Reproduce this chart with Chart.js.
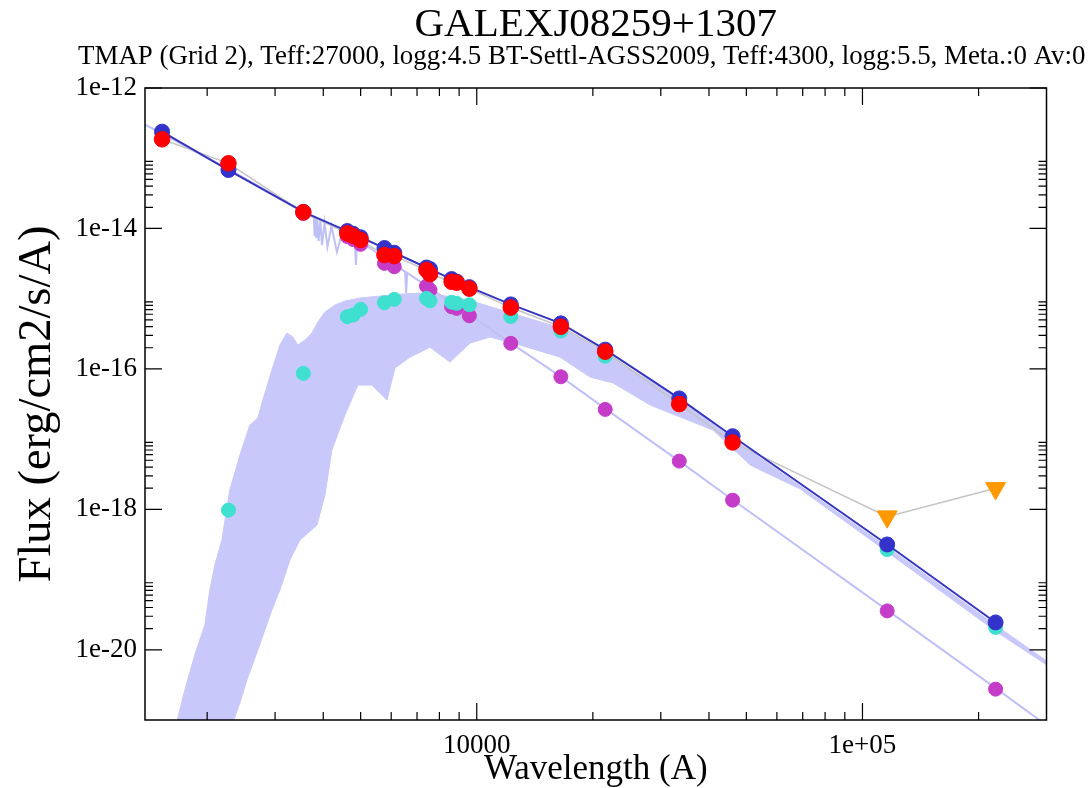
<!DOCTYPE html>
<html lang="en">
<head>
<meta charset="UTF-8">
<title>GALEXJ08259+1307 SED</title>
<script src="https://cdn.jsdelivr.net/npm/chart.js@4.4.7/dist/chart.umd.min.js"></script>
<style>
  html, body { margin: 0; padding: 0; background: #fff; }
  .wrap { position: relative; width: 1089px; height: 788px; }
</style>
</head>
<body>
<div class="wrap"><canvas id="sed"></canvas></div>
<script>
// photometric bands, effective wavelength (A)
const filterWave = [1528, 2271, 3551, 4616, 4783, 4999, 5764, 6111, 7409, 7565, 8608, 8872, 9568, 12252, 16520, 21528, 33497, 46058, 115900, 221400];

// observed fluxes (detections, first 18 bands) and upper limits (last two)
const obsFlux = [1.86e-13, 8.46e-14, 1.70e-14, 8.51e-15, 7.87e-15, 6.84e-15, 4.18e-15, 4.04e-15, 2.56e-15, 2.24e-15, 1.74e-15, 1.69e-15, 1.39e-15, 7.47e-16, 3.98e-16, 1.76e-16, 3.15e-17, 8.97e-18];
const upperWave = [115900, 221400];
const upperFlux = [7.87e-19, 1.99e-18];

// synthetic photometry: combined model, M dwarf (BT-Settl), white dwarf (TMAP)
const modelFlux = [2.39e-13, 6.79e-14, 1.72e-14, 9.18e-15, 8.38e-15, 7.49e-15, 5.26e-15, 4.51e-15, 2.78e-15, 2.64e-15, 1.90e-15, 1.75e-15, 1.46e-15, 8.29e-16, 4.45e-16, 1.88e-16, 3.80e-17, 1.10e-17, 3.16e-19, 2.45e-20];
const mdFlux = [null, 9.74e-19, 8.63e-17, 5.53e-16, 5.84e-16, 7.04e-16, 8.74e-16, 9.77e-16, 1.01e-15, 9.33e-16, 8.89e-16, 8.57e-16, 8.19e-16, 5.56e-16, 3.46e-16, 1.51e-16, 3.37e-17, 9.84e-18, 2.67e-19, 2.08e-20];
const wdFlux = [2.21e-13, 7.13e-14, 1.63e-14, 7.67e-15, 6.95e-15, 5.94e-15, 3.18e-15, 2.85e-15, 1.51e-15, 1.33e-15, 7.67e-16, 7.27e-16, 5.71e-16, 2.31e-16, 7.72e-17, 2.65e-17, 4.86e-18, 1.35e-18, 3.58e-20, 2.75e-21];

// TMAP white dwarf spectrum (continuum with Balmer lines)
const wdSpecWave = [1380, 2271, 3551, 3780, 3798, 3815, 3835, 3860, 3889, 3930, 3970, 4030, 4102, 4200, 4340, 4480, 4830, 4861, 4890, 5100, 6520, 6563, 6600, 9000, 12252, 16520, 21528, 33497, 46058, 115900, 221400, 300000];
const wdSpecFlux = [3.02e-13, 7.02e-14, 1.74e-14, 1.43e-14, 7.79e-15, 1.38e-14, 7.30e-15, 1.36e-14, 6.61e-15, 1.30e-14, 5.80e-15, 1.21e-14, 5.43e-15, 1.08e-14, 4.61e-15, 8.89e-15, 6.95e-15, 3.01e-15, 6.61e-15, 6.00e-15, 2.43e-15, 1.20e-15, 2.33e-15, 7.47e-16, 2.33e-16, 7.77e-17, 2.72e-17, 4.86e-18, 1.37e-18, 3.67e-20, 2.84e-21, 8.43e-22];

// BT-Settl M dwarf spectrum, upper and lower envelope of the dense line forest
const mdUpWave = [1660, 1750, 1857, 1972, 2032, 2093, 2183, 2289, 2431, 2580, 2706, 2788, 2942, 3087, 3219, 3336, 3437, 3584, 3737, 3874, 4040, 4287, 4551, 4978, 5610, 6322, 7124, 8029, 9050, 9899, 12274, 16551, 21528, 33700, 45980, 116100, 221400, 301000];
const mdUpFlux = [8.4e-22, 2.66e-21, 8.4e-21, 2.24e-20, 7.1e-20, 1.6e-19, 3.64e-19, 1.88e-18, 5.9e-18, 1.58e-17, 1.99e-17, 3.59e-17, 9.6e-17, 2.18e-16, 3.24e-16, 2.84e-16, 2.18e-16, 2.57e-16, 3.24e-16, 4.64e-16, 6.44e-16, 8.1e-16, 9.24e-16, 1.02e-15, 1.09e-15, 1.16e-15, 1.20e-15, 1.12e-15, 1.02e-15, 8.95e-16, 6.24e-16, 3.81e-16, 1.68e-16, 3.59e-17, 1.03e-17, 2.89e-19, 2.24e-20, 6.88e-21];
const mdLoWave = [1660, 2317, 2431, 2534, 2706, 2942, 3087, 3277, 3478, 3851, 4040, 4211, 4551, 4919, 5350, 5851, 6137, 6713, 7565, 8524, 9608, 10827, 12954, 16452, 19685, 22580, 28170, 41050, 51220, 69040, 116100, 221400, 301000];
const mdLoFlux = [8.4e-22, 8.4e-22, 1.74e-21, 3.69e-21, 9.87e-21, 3.67e-20, 7.1e-20, 1.89e-19, 3.64e-19, 5.96e-19, 1.59e-18, 6.97e-18, 2.2e-17, 5.88e-17, 5.88e-17, 3.59e-17, 1.03e-16, 1.47e-16, 2.04e-16, 1.25e-16, 2.33e-16, 2.84e-16, 2.18e-16, 1.47e-16, 7.64e-17, 6.28e-17, 3.05e-17, 1.34e-17, 4.26e-18, 1.94e-18, 2.46e-19, 1.84e-20, 6.03e-21];

// axis ticks
const xMajorTicks = [10000, 100000];
const xTickLabels = ['10000', '1e+05'];
const xMinorTicks = [2000, 3000, 4000, 5000, 6000, 7000, 8000, 9000, 20000, 30000, 40000, 50000, 60000, 70000, 80000, 90000, 200000];
const yMajorTicks = [1e-20, 1e-18, 1e-16, 1e-14, 1e-12];
const yTickLabels = ['1e-20', '1e-18', '1e-16', '1e-14', '1e-12'];
const yMinorTicks = [
  2e-20, 3e-20, 4e-20, 5e-20, 6e-20, 7e-20, 8e-20, 9e-20,
  2e-18, 3e-18, 4e-18, 5e-18, 6e-18, 7e-18, 8e-18, 9e-18,
  2e-16, 3e-16, 4e-16, 5e-16, 6e-16, 7e-16, 8e-16, 9e-16,
  2e-14, 3e-14, 4e-14, 5e-14, 6e-14, 7e-14, 8e-14, 9e-14
];

const chartTitle = 'GALEXJ08259+1307';
const chartSubtitle = 'TMAP (Grid 2), Teff:27000, logg:4.5 BT-Settl-AGSS2009, Teff:4300, logg:5.5, Meta.:0 Av:0';

const serif = '"Liberation Serif", "Times New Roman", serif';
const lavender = '#c8c8fa';

function pts(xs, ys) {
  return xs.map((x, i) => ({ x: x, y: ys[i] })).filter(p => p.y != null);
}

// title + subtitle, centred over the plot like xmgrace does
const titlePlugin = {
  id: 'sedTitle',
  afterDraw(chart) {
    const { ctx, chartArea } = chart;
    const cx = (chartArea.left + chartArea.right) / 2;
    ctx.save();
    ctx.fillStyle = '#000';
    ctx.textAlign = 'center';
    ctx.textBaseline = 'alphabetic';
    ctx.font = '41px ' + serif;
    ctx.fillText(chartTitle, cx, 36);
    ctx.font = '26.9px ' + serif;
    ctx.fillText(chartSubtitle, cx - 14, 64);
    ctx.restore();
  }
};

// box frame with inward ticks on all four sides
const framePlugin = {
  id: 'graceFrame',
  afterDatasetsDraw(chart) {
    const { ctx, chartArea: a, scales: { x, y } } = chart;
    ctx.save();
    ctx.strokeStyle = '#000';
    ctx.lineWidth = 1.2;
    ctx.beginPath();
    const vt = (v, len) => {
      const px = x.getPixelForValue(v);
      ctx.moveTo(px, a.bottom); ctx.lineTo(px, a.bottom - len);
      ctx.moveTo(px, a.top); ctx.lineTo(px, a.top + len);
    };
    const ht = (v, len) => {
      const py = y.getPixelForValue(v);
      ctx.moveTo(a.left, py); ctx.lineTo(a.left + len, py);
      ctx.moveTo(a.right, py); ctx.lineTo(a.right - len, py);
    };
    xMajorTicks.forEach(v => vt(v, 17));
    xMinorTicks.forEach(v => vt(v, 8));
    yMajorTicks.forEach(v => ht(v, 17));
    yMinorTicks.forEach(v => ht(v, 8));
    ctx.stroke();
    ctx.lineWidth = 1.5;
    ctx.strokeRect(a.left, a.top, a.right - a.left, a.bottom - a.top);
    ctx.restore();
  }
};

const dotStyle = (color, r) => ({
  showLine: false,
  pointStyle: 'circle',
  pointRadius: r,
  pointBackgroundColor: color,
  pointBorderColor: color,
  pointBorderWidth: 1,
  borderColor: color,
  backgroundColor: color
});

new Chart(document.getElementById('sed'), {
  type: 'line',
  data: {
    datasets: [
      { // M dwarf spectrum, upper edge, filled down to the lower edge
        data: pts(mdUpWave, mdUpFlux),
        borderColor: lavender, backgroundColor: lavender, borderWidth: 1,
        pointRadius: 0, fill: '+1', order: 10, clip: 0
      },
      { // M dwarf spectrum, lower edge
        data: pts(mdLoWave, mdLoFlux),
        borderColor: lavender, borderWidth: 1,
        pointRadius: 0, fill: false, order: 10, clip: 0
      },
      { // white dwarf spectrum
        data: pts(wdSpecWave, wdSpecFlux),
        borderColor: '#c0c0f8', borderWidth: 2,
        pointRadius: 0, fill: false, order: 9, clip: 0
      },
      { // observed SED, grey connecting line
        data: pts(filterWave.slice(0, obsFlux.length).concat(upperWave), obsFlux.concat(upperFlux)),
        borderColor: '#c4c4c4', borderWidth: 1.5,
        pointRadius: 0, fill: false, order: 8, clip: 0
      },
      Object.assign(dotStyle('#c43cc8', 7), { data: pts(filterWave, wdFlux), order: 6 }),
      Object.assign(dotStyle('#40e0d0', 7), { data: pts(filterWave, mdFlux), order: 5 }),
      Object.assign(dotStyle('#3333cc', 7.5), {
        data: pts(filterWave, modelFlux), order: 4,
        showLine: true, borderColor: '#3535c0', borderWidth: 2, fill: false
      }),
      Object.assign(dotStyle('#ff0000', 7.8), { data: pts(filterWave, obsFlux), order: 3 }),
      Object.assign(dotStyle('#ff9900', 11.5), { data: pts(upperWave, upperFlux), pointStyle: 'triangle', rotation: 180, order: 2 })
    ]
  },
  options: {
    responsive: true,
    maintainAspectRatio: false,
    animation: false,
    devicePixelRatio: 1,
    layout: { padding: { top: 88, right: 42.5, bottom: 0, left: 0 } },
    elements: { line: { tension: 0 } },
    plugins: {
      legend: { display: false },
      tooltip: { enabled: false }
    },
    scales: {
      x: {
        type: 'logarithmic',
        min: 1380,
        max: 300000,
        grid: { display: false, drawTicks: false },
        border: { display: false },
        afterBuildTicks: s => { s.ticks = xMajorTicks.map(v => ({ value: v })); },
        afterFit: s => { s.height = 68; },
        ticks: {
          padding: 10, color: '#000', autoSkip: false, maxRotation: 0,
          font: { family: serif, size: 27 },
          callback: (v, i) => xTickLabels[i]
        },
        title: {
          display: true, text: 'Wavelength (A)', color: '#000',
          font: { family: serif, size: 35, lineHeight: 1.0 },
          padding: { top: 0, bottom: 1 }
        }
      },
      y: {
        type: 'logarithmic',
        min: 1e-21,
        max: 1e-12,
        grid: { display: false, drawTicks: false },
        border: { display: false },
        afterBuildTicks: s => { s.ticks = yMajorTicks.map(v => ({ value: v })); },
        afterFit: s => { s.width = 145; },
        ticks: {
          padding: 8, color: '#000', autoSkip: false,
          font: { family: serif, size: 27 },
          callback: (v, i) => yTickLabels[i]
        },
        title: {
          display: true, text: 'Flux (erg/cm2/s/A)', color: '#000',
          font: { family: serif, size: 46.5 },
          padding: { top: 10, bottom: 0 }
        }
      }
    }
  },
  plugins: [titlePlugin, framePlugin]
});
</script>
</body>
</html>
